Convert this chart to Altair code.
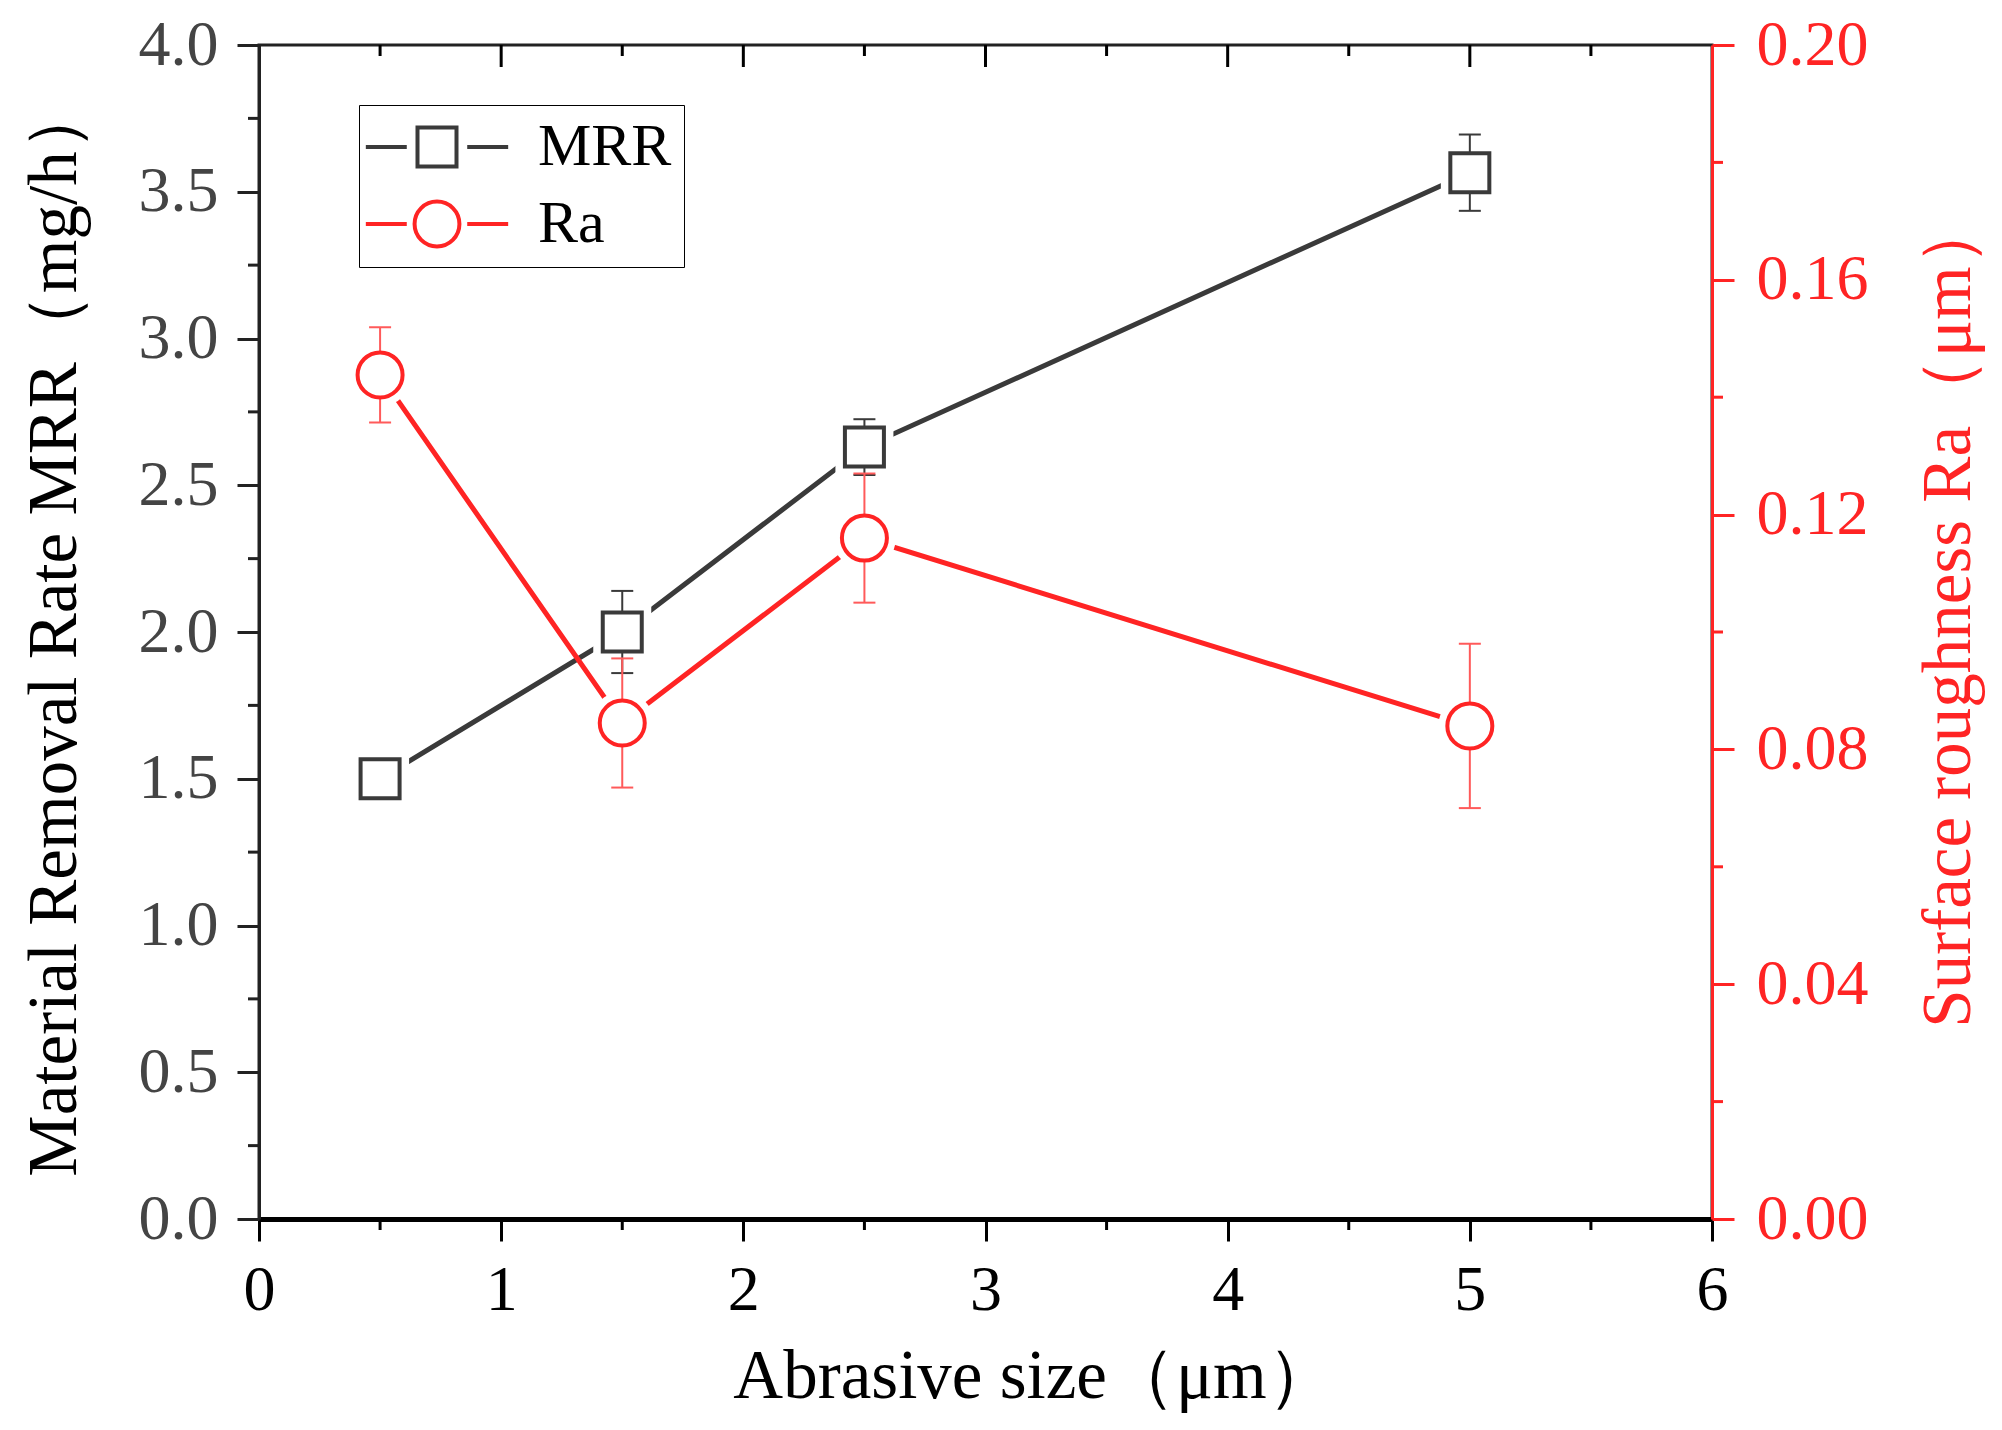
import altair as alt
import pandas as pd

# ---------------- data ----------------
sizes = [0.5, 1.5, 2.5, 5.0]
mrr = [1.50, 2.00, 2.63, 3.565]
mrr_err = [0.06, 0.14, 0.095, 0.13]
ra = [0.1438, 0.0845, 0.1160, 0.0840]
ra_err = [0.0081, 0.0110, 0.0110, 0.0140]
series = ["MRR", "Ra"]

x_major = [0, 1, 2, 3, 4, 5, 6]
x_minor = [0.5, 1.5, 2.5, 3.5, 4.5, 5.5]
top_major = [1, 2, 3, 4, 5]
mrr_major = [0.0, 0.5, 1.0, 1.5, 2.0, 2.5, 3.0, 3.5, 4.0]
mrr_minor = [0.25, 0.75, 1.25, 1.75, 2.25, 2.75, 3.25, 3.75]
ra_major = [0.0, 0.04, 0.08, 0.12, 0.16, 0.20]
ra_minor = [0.02, 0.06, 0.10, 0.14, 0.18]

# ---------------- style ----------------
GRAY = "#3a3a3a"
RED = "#ff2424"
RED_ERR = "#ff5a5a"
FONT = "Liberation Serif"
W, H = 1453, 1174
TITLE_FS = 69

df_m = pd.DataFrame({
    "x": sizes, "y": mrr,
    "lo": [v - e for v, e in zip(mrr, mrr_err)],
    "hi": [v + e for v, e in zip(mrr, mrr_err)],
})
df_r = pd.DataFrame({
    "x": sizes, "y": ra,
    "lo": [v - e for v, e in zip(ra, ra_err)],
    "hi": [v + e for v, e in zip(ra, ra_err)],
})
df_leg = pd.DataFrame({"s": series, "x": [sizes[0]] * 2, "y": [mrr[0]] * 2})

xs = alt.Scale(domain=[0, 6], nice=False, zero=False)
ys_m = alt.Scale(domain=[0, 4], nice=False)
ys_r = alt.Scale(domain=[0, 0.2], nice=False)

x_axis = alt.Axis(
    title="Abrasive size（μm）", values=x_major, format="d",
    tickSize=22, tickWidth=3, tickColor="black",
    domainColor="black", domainWidth=5,
    labelFont=FONT, labelFontSize=64, labelColor="black", labelPadding=17,
    labelFlush=False, labelOverlap=False,
    titleFont=FONT, titleFontSize=TITLE_FS, titleColor="black", titleFontWeight="normal",
    titleX=775, titleY=178, titleBaseline="alphabetic", titleAlign="center",
    grid=False,
)
y_left = alt.Axis(
    title="Material Removal Rate MRR（mg/h）", values=mrr_major, format=".1f",
    tickSize=22, tickWidth=3, tickColor="#222222",
    domainColor="#222222", domainWidth=3,
    labelFont=FONT, labelFontSize=64, labelColor="#444444", labelPadding=19,
    labelFlush=False, labelOverlap=False,
    titleFont=FONT, titleFontSize=TITLE_FS, titleColor="black", titleFontWeight="normal",
    titleAngle=270, titleX=-184, titleY=584, titleBaseline="alphabetic", titleAlign="center",
    grid=False,
)
y_right = alt.Axis(
    orient="right",
    title="Surface roughness Ra（μm）", values=ra_major, format=".2f",
    tickSize=22, tickWidth=3, tickColor=RED,
    domainColor=RED, domainWidth=3,
    labelFont=FONT, labelFontSize=64, labelColor=RED, labelPadding=22,
    labelFlush=False, labelOverlap=False,
    titleFont=FONT, titleFontSize=TITLE_FS, titleColor=RED, titleFontWeight="normal",
    titleAngle=270, titleX=257, titleY=567, titleBaseline="alphabetic", titleAlign="center",
    grid=False,
)

# every layer uses the same axis definition so the axes merge cleanly
def X(field):
    return alt.X(field, scale=xs, axis=x_axis)

def YM(field):
    return alt.Y(field, scale=ys_m, axis=y_left)

def YR(field):
    return alt.Y(field, scale=ys_r, axis=y_right)

# legend symbols: line - marker - line
sq_path = "M-3.65,0H-1.55M-1,-1H1V1H-1ZM1.55,0H3.65"
ci_path = "M-3.65,0H-1.55M-1.15,0A1.15,1.15,0,1,1,1.15,0A1.15,1.15,0,1,1,-1.15,0ZM1.55,0H3.65"

leg = alt.Legend(
    title=None, orient="none", legendX=100, legendY=60, padding=12,
    strokeColor="black", fillColor="white",
    labelFont=FONT, labelFontSize=60, labelColor="black",
    symbolSize=1521, symbolStrokeWidth=4, symbolOpacity=1,
    symbolOffset=36, labelOffset=71, rowPadding=16,
)

LW = 5
MW = 4

# ---------------- MRR (left axis) ----------------
m_line = alt.Chart(df_m).mark_line(color=GRAY, strokeWidth=LW).encode(x=X("x:Q"), y=YM("y:Q"))
m_halo = alt.Chart(df_m).mark_point(
    shape="square", filled=True, color="white", opacity=1, size=3364
).encode(x=X("x:Q"), y=YM("y:Q"))
m_stem = alt.Chart(df_m).mark_rule(color=GRAY, strokeWidth=2).encode(
    x=X("x:Q"), y=YM("lo:Q"), y2="hi:Q"
)
m_cap_lo = alt.Chart(df_m).mark_tick(
    orient="horizontal", size=22, thickness=2, color=GRAY, opacity=1
).encode(x=X("x:Q"), y=YM("lo:Q"))
m_cap_hi = alt.Chart(df_m).mark_tick(
    orient="horizontal", size=22, thickness=2, color=GRAY, opacity=1
).encode(x=X("x:Q"), y=YM("hi:Q"))
m_mark = alt.Chart(df_m).mark_point(
    shape="square", filled=True, fill="white", stroke=GRAY, strokeWidth=MW,
    size=1521, opacity=1,
).encode(x=X("x:Q"), y=YM("y:Q"))
m_minor = alt.Chart(pd.DataFrame({"v": mrr_minor})).mark_rule(
    color="#222222", strokeWidth=3
).encode(y=YM("v:Q"), x=alt.value(0), x2=alt.value(-11))
legend_layer = alt.Chart(df_leg).mark_point(filled=False, opacity=0, size=100).encode(
    x=X("x:Q"), y=YM("y:Q"),
    color=alt.Color("s:N", scale=alt.Scale(domain=series, range=[GRAY, RED]), legend=leg),
    shape=alt.Shape("s:N", scale=alt.Scale(domain=series, range=[sq_path, ci_path]), legend=leg),
)
mrr_layer = alt.layer(m_line, m_halo, m_stem, m_cap_lo, m_cap_hi, m_mark, m_minor, legend_layer)

# ---------------- Ra (right axis) ----------------
r_line = alt.Chart(df_r).mark_line(color=RED, strokeWidth=LW).encode(x=X("x:Q"), y=YR("y:Q"))
r_halo = alt.Chart(df_r).mark_point(
    shape="circle", filled=True, color="white", opacity=1, size=3969
).encode(x=X("x:Q"), y=YR("y:Q"))
r_stem = alt.Chart(df_r).mark_rule(color=RED_ERR, strokeWidth=2).encode(
    x=X("x:Q"), y=YR("lo:Q"), y2="hi:Q"
)
r_cap_lo = alt.Chart(df_r).mark_tick(
    orient="horizontal", size=22, thickness=2, color=RED_ERR, opacity=1
).encode(x=X("x:Q"), y=YR("lo:Q"))
r_cap_hi = alt.Chart(df_r).mark_tick(
    orient="horizontal", size=22, thickness=2, color=RED_ERR, opacity=1
).encode(x=X("x:Q"), y=YR("hi:Q"))
r_mark = alt.Chart(df_r).mark_point(
    shape="circle", filled=True, fill="white", stroke=RED, strokeWidth=MW,
    size=2025, opacity=1,
).encode(x=X("x:Q"), y=YR("y:Q"))
r_minor = alt.Chart(pd.DataFrame({"v": ra_minor})).mark_rule(
    color=RED, strokeWidth=3
).encode(y=YR("v:Q"), x=alt.value(W), x2=alt.value(W + 11))
top_maj = alt.Chart(pd.DataFrame({"t": top_major})).mark_rule(
    color="black", strokeWidth=3
).encode(x=X("t:Q"), y=alt.value(0), y2=alt.value(22))
top_min = alt.Chart(pd.DataFrame({"t": x_minor})).mark_rule(
    color="black", strokeWidth=3
).encode(x=X("t:Q"), y=alt.value(0), y2=alt.value(11))
bot_min = alt.Chart(pd.DataFrame({"t": x_minor})).mark_rule(
    color="black", strokeWidth=3
).encode(x=X("t:Q"), y=alt.value(H), y2=alt.value(H + 11))
ra_layer = alt.layer(r_line, r_halo, r_stem, r_cap_lo, r_cap_hi, r_mark,
                     r_minor, top_maj, top_min, bot_min)

chart = (
    alt.layer(mrr_layer, ra_layer)
    .resolve_scale(y="independent")
    .properties(
        width=W, height=H,
        padding={"left": 251, "top": 37, "right": 276, "bottom": 206},
        autosize=alt.AutoSizeParams(type="none"),
    )
    .configure(font=FONT)
    .configure_view(stroke="#222222", strokeWidth=3)
)

chart.save("out.html", embed_options={"renderer": "svg", "actions": False})
